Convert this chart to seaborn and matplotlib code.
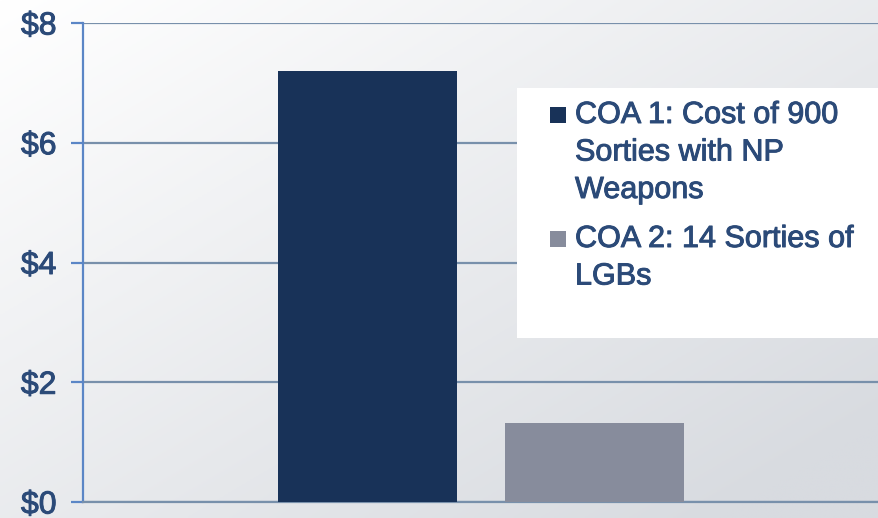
import numpy as np
import pandas as pd
import matplotlib
matplotlib.use("Agg")
import matplotlib.pyplot as plt
import seaborn as sns
from matplotlib.patches import Rectangle
import matplotlib.patheffects as pe

categories = ["COA 1: Cost of 900\nSorties with NP\nWeapons", "COA 2: 14 Sorties of\nLGBs"]
values = [7.2, 1.32]
colors = ["#183258", "#878c9c"]
tick_values = [0, 2, 4, 6, 8]
tick_labels = ["$0", "$2", "$4", "$6", "$8"]

df = pd.DataFrame({"group": [""] * 2, "series": categories, "value": values})

sns.set_theme(style="white")
plt.rcParams["font.family"] = ["Liberation Sans", "DejaVu Sans"]

TXT = "#2b4a78"
bold = [pe.withStroke(linewidth=0.7, foreground=TXT)]

W, H = 879, 518
fig = plt.figure(figsize=(W / 100, H / 100), dpi=100)

# gradient background
bg = fig.add_axes([0, 0, 1, 1], zorder=-10)
xx, yy = np.meshgrid(np.linspace(0, 1, 200), np.linspace(0, 1, 200))
g = np.clip(0.55 * xx + 0.55 * yy, 0, 1)
c0 = np.array([1.0, 1.0, 1.0])
c1 = np.array([0xd8, 0xdb, 0xe0]) / 255
img = c0[None, None, :] * (1 - g[..., None]) + c1[None, None, :] * g[..., None]
bg.imshow(img, extent=[0, 1, 0, 1], aspect="auto", origin="upper")
bg.set_axis_off()

ax = fig.add_axes([83 / W, 1 - 502 / H, 1 - 83 / W, (502 - 23) / H])
ax.patch.set_alpha(0)
sns.barplot(data=df, x="group", y="value", hue="series", palette=colors,
            width=0.8, gap=0.215, saturation=1, linewidth=0, ax=ax,
            legend=False, zorder=3)
ax.set_xlim(-0.7, 0.7)
ax.set_ylim(0, 8)
ax.set_yticks(tick_values)
ax.set_yticklabels(tick_labels, color=TXT, fontsize=23)
for lab in ax.get_yticklabels():
    lab.set_path_effects(bold)
ax.set_xticks([])
ax.set_xlabel("")
ax.set_ylabel("")
ax.grid(axis="y", color="#7890ab", linewidth=1.6, zorder=0)
for s in ["top", "right"]:
    ax.spines[s].set_visible(False)
ax.spines["left"].set_color("#5b86c6")
ax.spines["left"].set_linewidth(1.6)
ax.spines["bottom"].set_color("#7890ab")
ax.spines["bottom"].set_linewidth(1.6)
ax.tick_params(axis="y", length=9, width=1.6, color="#5b86c6", pad=10, left=True)

# legend box
fig.patches.append(Rectangle((517 / W, 1 - 338 / H), (W - 517) / W, 250 / H,
                             transform=fig.transFigure, facecolor="white",
                             edgecolor="none", zorder=5))
first_baselines = [123, 247]
line_step = 37.5
for lab, col, b0 in zip(categories, colors, first_baselines):
    fig.patches.append(Rectangle((550 / W, 1 - b0 / H), 16 / W, 16 / H,
                                 transform=fig.transFigure, facecolor=col,
                                 edgecolor="none", zorder=6))
    for i, line in enumerate(lab.split("\n")):
        fig.text(575 / W, 1 - (b0 + i * line_step) / H, line, fontsize=22,
                 color=TXT, va="baseline", ha="left", zorder=7,
                 path_effects=bold)

fig.savefig("out.png", dpi=100)
